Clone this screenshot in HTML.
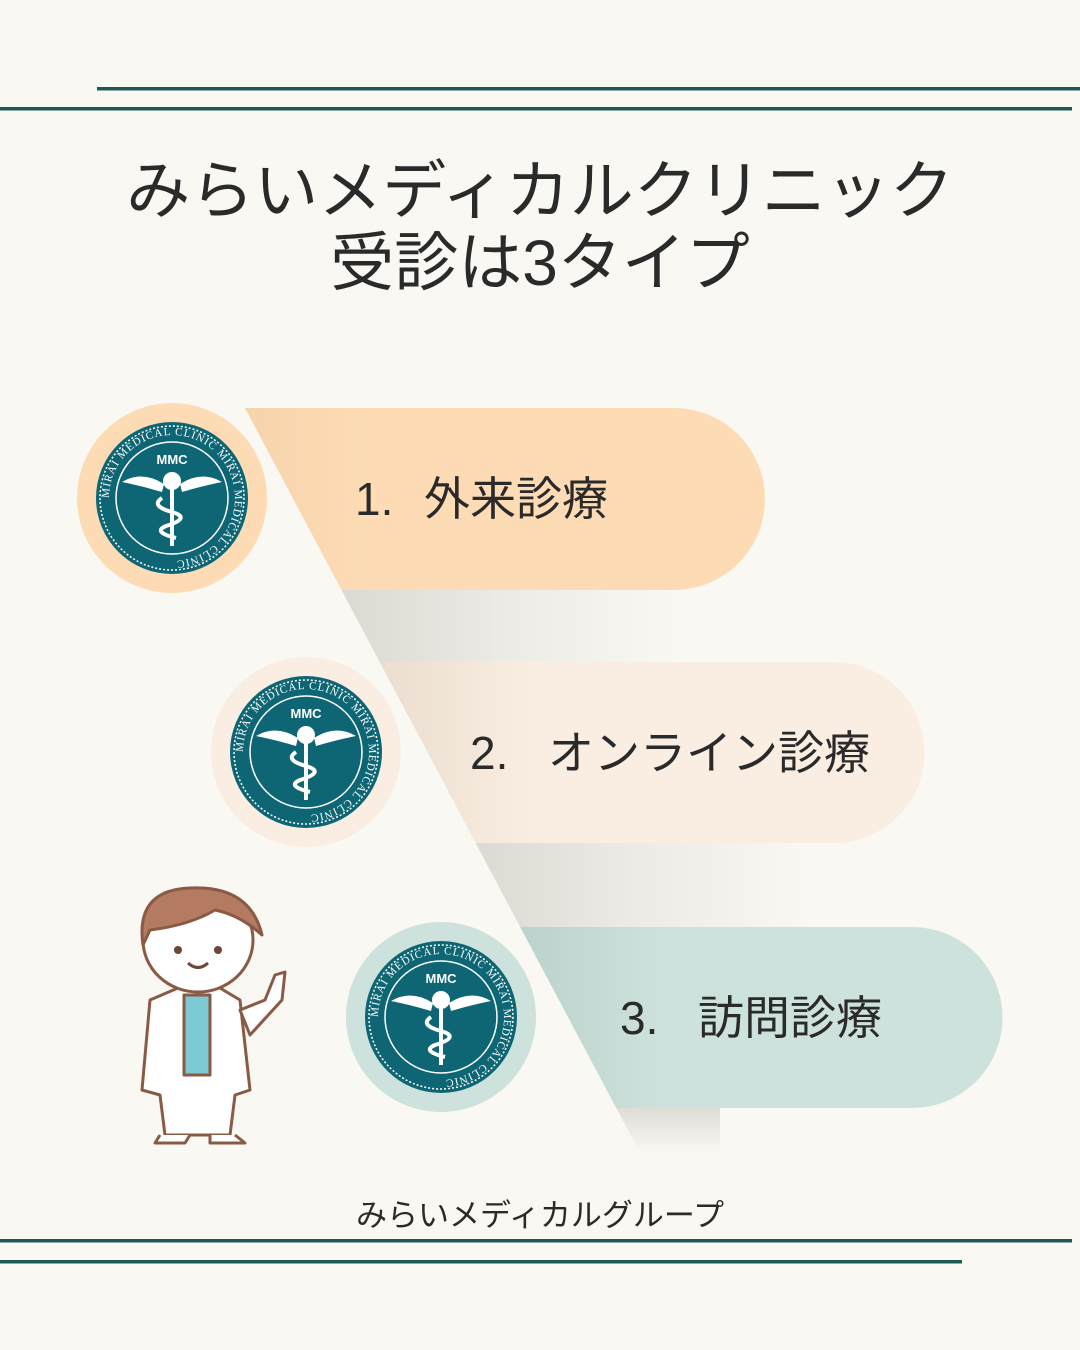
<!DOCTYPE html>
<html><head><meta charset="utf-8"><style>
html,body{margin:0;padding:0;background:#f9f8f3;}
body{width:1080px;height:1350px;overflow:hidden;position:relative;font-family:"Liberation Sans","Noto Sans CJK JP",sans-serif;}
</style></head><body>
<svg width="1080" height="1350" viewBox="0 0 1080 1350" xmlns="http://www.w3.org/2000/svg" style="position:absolute;left:0;top:0">
<defs>
<clipPath id="diag"><polygon points="245,408 1080,408 1080,1200 665,1200"/></clipPath>
<linearGradient id="sh" x1="0" x2="1" y1="0" y2="0">
<stop offset="0" stop-color="#d9d8d1"/><stop offset="0.35" stop-color="#ecebe5"/><stop offset="0.7" stop-color="#f9f8f3"/></linearGradient>
<linearGradient id="sh3" x1="0" x2="0" y1="0" y2="1">
<stop offset="0" stop-color="#dedcd5"/><stop offset="1" stop-color="#f9f8f3"/></linearGradient>
<linearGradient id="b1" x1="0" x2="1"><stop offset="0" stop-color="#f3d0a8"/><stop offset="0.3" stop-color="#fddcb5"/></linearGradient>
<linearGradient id="b2" x1="0" x2="1"><stop offset="0" stop-color="#e6d9ca"/><stop offset="0.35" stop-color="#faeee2"/></linearGradient>
<linearGradient id="b3" x1="0" x2="1"><stop offset="0" stop-color="#b8cdc7"/><stop offset="0.35" stop-color="#cde2dc"/></linearGradient>
<g id="logo">
<circle r="76" fill="#0e6675"/>
<circle r="72" fill="none" stroke="#fff" stroke-width="1.5" stroke-dasharray="2 2"/>
<circle r="56" fill="none" stroke="#fff" stroke-width="1.5"/>
<path id="arc" d="M -63 0 A 63 63 0 1 1 63 0 A 63 63 0 1 1 -63 0" fill="none"/>
<text font-family="Liberation Serif,serif" font-size="11" fill="#fff" letter-spacing="1"><textPath href="#arc">MIRAI MEDICAL CLINIC  MIRAI MEDICAL CLINIC</textPath></text>
<text y="-34" text-anchor="middle" font-size="13" font-weight="bold" fill="#fff">MMC</text>
<circle cy="-17" r="9" fill="#fff"/>
<path d="M-8,-14 Q-30,-28 -50,-16 Q-30,-12 -10,-6Z M8,-14 Q30,-28 50,-16 Q30,-12 10,-6Z" fill="#fff"/>
<rect x="-2" y="-10" width="4" height="58" fill="#fff"/>
<path d="M-10,0 Q-22,8 0,14 Q20,20 -6,28 Q-20,34 4,40" fill="none" stroke="#fff" stroke-width="4"/>
</g>
</defs>
<rect x="97" y="87" width="983" height="3.5" fill="#1e5a55"/>
<rect x="0" y="107" width="1072" height="3.5" fill="#1e5a55"/>
<rect x="0" y="1239" width="1072" height="3.5" fill="#1e5a55"/>
<rect x="0" y="1260" width="962" height="3.5" fill="#1e5a55"/>
<g clip-path="url(#diag)">
<rect x="330" y="590" width="500" height="72" fill="url(#sh)"/>
<rect x="460" y="843" width="500" height="84" fill="url(#sh)"/>
<rect x="600" y="1108" width="120" height="45" fill="url(#sh3)"/>
<path d="M200,408 H674 A91,91 0 0 1 674,590 H200Z" fill="url(#b1)"/>
<path d="M330,662 H834 A90.5,90.5 0 0 1 834,843 H330Z" fill="url(#b2)"/>
<path d="M480,927 H912 A90.5,90.5 0 0 1 912,1108 H480Z" fill="url(#b3)"/>
</g>
<circle cx="172" cy="498" r="95" fill="#fddcb5"/>
<use href="#logo" x="172" y="498"/>
<circle cx="306" cy="752" r="95" fill="#faeee2"/>
<use href="#logo" x="306" y="752"/>
<circle cx="441" cy="1017" r="95" fill="#cde2dc"/>
<use href="#logo" x="441" y="1017"/>
<g font-family="Liberation Sans,Noto Sans CJK JP,sans-serif" fill="#2a2a2a">
<text x="540" y="213" text-anchor="middle" font-size="64">みらいメディカルクリニック</text>
<text x="540" y="285" text-anchor="middle" font-size="64">受診は3タイプ</text>
<text x="355" y="515" font-size="46">1.</text><text x="424" y="515" font-size="46">外来診療</text>
<text x="470" y="769" font-size="46">2.</text><text x="548" y="769" font-size="46">オンライン診療</text>
<text x="620" y="1034" font-size="46">3.</text><text x="698" y="1034" font-size="46">訪問診療</text>
<text x="540" y="1226" text-anchor="middle" font-size="31">みらいメディカルグループ</text>
</g>
<!-- doctor -->
<g stroke="#8a5a44" stroke-width="3" stroke-linejoin="round">
<path d="M150,1000 L185,985 L215,985 L240,1000 L250,1090 L235,1095 L230,1135 L165,1135 L160,1095 L142,1090Z" fill="#fff"/>
<rect x="184" y="995" width="26" height="80" fill="#7ccad3"/>
<path d="M240,1010 L265,1000 L275,975 L285,972 L282,1000 L250,1035Z" fill="#fff"/>
<path d="M160,1135 L155,1143 L185,1143 L190,1135 M210,1135 L210,1143 L245,1143 L235,1135" fill="#fff"/>
<ellipse cx="198" cy="940" rx="55" ry="52" fill="#fff"/>
<path d="M143,945 Q135,890 190,888 Q250,885 262,935 Q240,915 215,910 Q190,925 150,930Z" fill="#b57b62"/>
</g>
<circle cx="178" cy="950" r="4" fill="#6d4636"/><circle cx="218" cy="950" r="4" fill="#6d4636"/>
<path d="M188,963 Q198,972 208,963" fill="none" stroke="#6d4636" stroke-width="3"/>
</svg>
</body></html>
